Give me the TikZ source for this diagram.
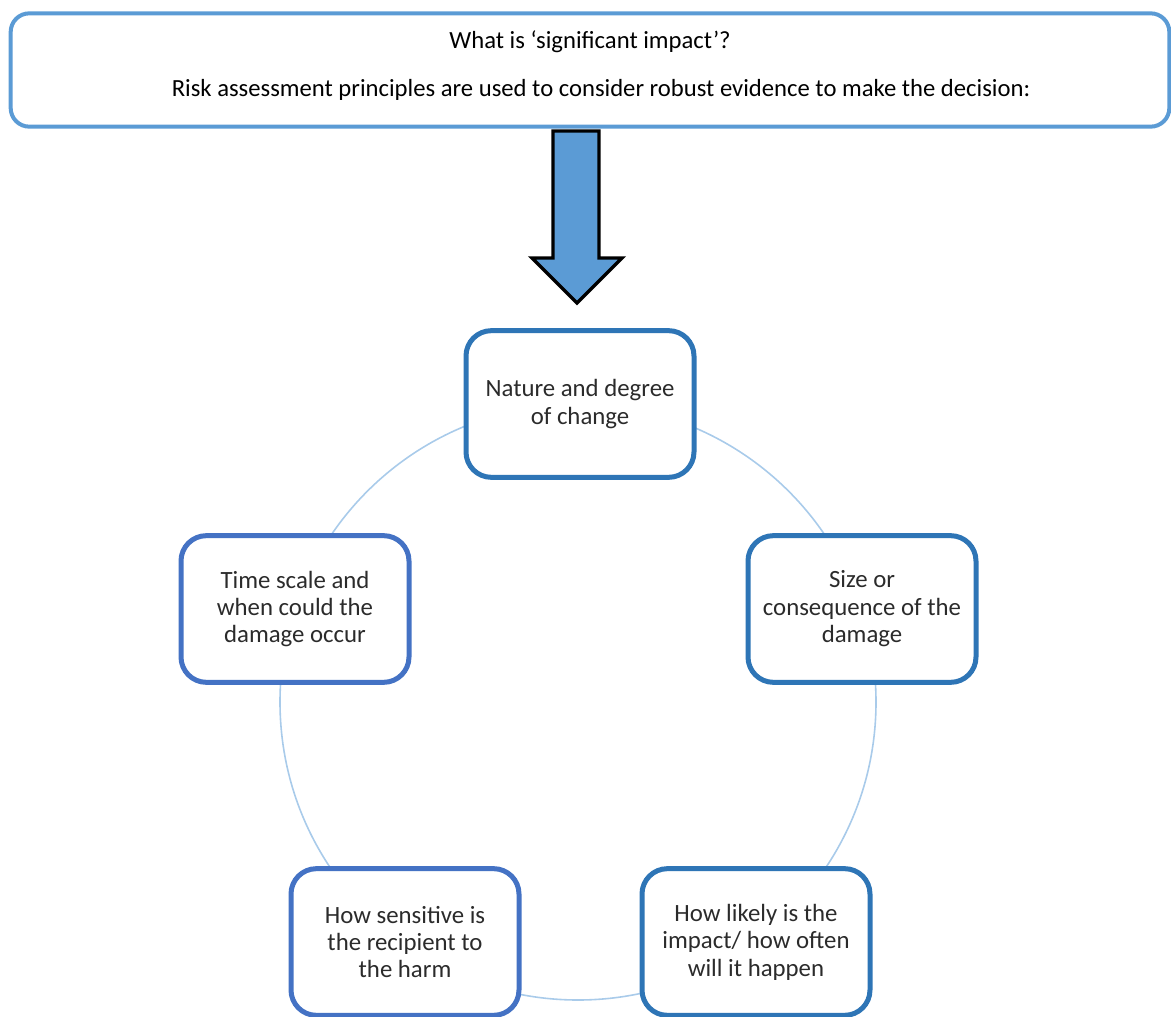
\documentclass[tikz,border=0pt]{standalone}
\usepackage{fontspec}
\setmainfont{Carlito}
\definecolor{boxblue}{HTML}{5B9BD5}
\definecolor{nodeblue}{HTML}{2E75B6}
\definecolor{nodeviolet}{HTML}{4472C4}
\definecolor{ringblue}{HTML}{A9CBEA}
\definecolor{textgrey}{HTML}{2B2B2B}
\tikzset{
  factor/.style={draw=nodeblue, line width=3.75pt, fill=white, rounded corners=19pt,
    minimum width=171pt, minimum height=110pt, align=center, text=textgrey,
    font=\fontsize{18.6}{20.6}\selectfont},
  question/.style={draw=boxblue, line width=3pt, rounded corners=14pt, fill=white,
    minimum width=869pt, minimum height=85pt},
}
\begin{document}
\begin{tikzpicture}[x=0.75pt,y=-0.75pt]
  \useasboundingbox (0,0) rectangle (1171,1017);
  \node[question] (top) at (590,70) {};
  \node[font=\fontsize{18.5}{21}\selectfont] (what) at (590,42) {What is ‘significant impact’?};
  \node[font=\fontsize{18.5}{21}\selectfont] (risk) at (601,90) {Risk assessment principles are used to consider robust evidence to make the decision:};
  % arrow down to the ring
  \draw[line width=2.5pt, fill=boxblue, line join=miter]
    (553,131) -- (599,131) -- (599,258) -- (622,258) -- (577,303)
    -- (532,258) -- (553,258) -- cycle;
  % the ring
  \coordinate (centre) at (578,702);
  \draw[ringblue, line width=1.2pt] (centre) circle[radius=298];
  \node[factor] (nature) at (580,404) {Nature and degree\\of change};
  \node[factor] (size) at (862,609) {Size or\\consequence of the\\damage};
  \node[factor, draw=nodeviolet] (time) at (295,609) {Time scale and\\when could the\\damage occur};
  \node[factor, draw=nodeviolet] (sensitive) at (405,942) {How sensitive is\\the recipient to\\the harm};
  \node[factor] (likely) at (756,942) {How likely is the\\impact/ how often\\will it happen};
\end{tikzpicture}
\end{document}
